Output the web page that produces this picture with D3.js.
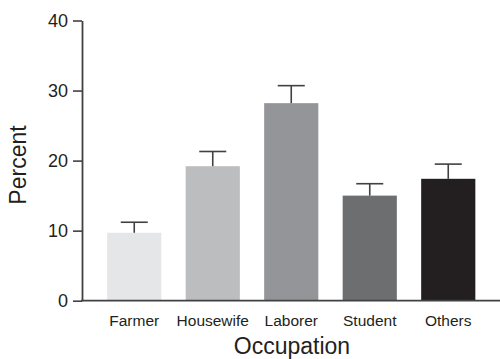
<!DOCTYPE html>
<html>
<head>
<meta charset="utf-8">
<script src="https://cdn.jsdelivr.net/npm/d3@7"></script>
<style>
  html, body { margin: 0; padding: 0; background: #fff; }
  svg { display: block; font-family: "Liberation Sans", Arial, Helvetica, sans-serif; }
</style>
</head>
<body>
<svg id="chart" width="500" height="359"></svg>
<script>
// Occupation breakdown: mean percent with upper error bar
const categories = ["Farmer", "Housewife", "Laborer", "Student", "Others"];
const percentValues = [9.7, 19.2, 28.2, 15.0, 17.4];
const errorValues = [1.5, 2.1, 2.5, 1.7, 2.1];
const barColors = ["#e5e6e8", "#bcbdbf", "#949599", "#6d6e70", "#231f20"];
const yTicks = [0, 10, 20, 30, 40];

const ink = "#414042";
const svg = d3.select("#chart");

const x = d3.scaleBand()
  .domain(categories)
  .range([95, 487.5])
  .paddingInner(0.31)
  .paddingOuter(0.155);

const y = d3.scaleLinear()
  .domain([0, 40])
  .range([300.7, 20.5]);

const rows = categories.map((c, i) => ({ c, v: percentValues[i], e: errorValues[i], color: barColors[i] }));

// Bars
svg.append("g")
  .selectAll("rect")
  .data(rows)
  .join("rect")
  .attr("x", d => x(d.c))
  .attr("y", d => y(d.v))
  .attr("width", x.bandwidth())
  .attr("height", d => y(0) - y(d.v))
  .attr("fill", d => d.color);

// Upper error bars
const capHalf = 13.5;
const err = svg.append("g")
  .attr("stroke", ink)
  .attr("stroke-width", 1.6)
  .attr("fill", "none");
err.selectAll("line.stem")
  .data(rows)
  .join("line")
  .attr("class", "stem")
  .attr("x1", d => x(d.c) + x.bandwidth() / 2)
  .attr("x2", d => x(d.c) + x.bandwidth() / 2)
  .attr("y1", d => y(d.v))
  .attr("y2", d => y(d.v + d.e));
err.selectAll("line.cap")
  .data(rows)
  .join("line")
  .attr("class", "cap")
  .attr("x1", d => x(d.c) + x.bandwidth() / 2 - capHalf)
  .attr("x2", d => x(d.c) + x.bandwidth() / 2 + capHalf)
  .attr("y1", d => y(d.v + d.e))
  .attr("y2", d => y(d.v + d.e));

// Y axis
const yAxis = svg.append("g")
  .attr("transform", "translate(82,0)")
  .call(d3.axisLeft(y).tickValues(yTicks).tickSize(9).tickPadding(5).tickSizeOuter(0));
yAxis.select(".domain").attr("stroke", ink).attr("stroke-width", 1.8);
yAxis.selectAll(".tick line").attr("stroke", ink).attr("stroke-width", 1.6);
yAxis.selectAll(".tick text")
  .attr("fill", "#231f20")
  .style("font-size", "18px")
  .style("font-family", "\"Liberation Sans\", Arial, sans-serif");

// X baseline
svg.append("line")
  .attr("x1", 81.1).attr("x2", 500)
  .attr("y1", y(0)).attr("y2", y(0))
  .attr("stroke", ink)
  .attr("stroke-width", 1.8);

// X category labels
const xAxis = svg.append("g")
  .attr("transform", `translate(0,${y(0)})`)
  .call(d3.axisBottom(x).tickSize(0).tickPadding(14));
xAxis.select(".domain").remove();
xAxis.selectAll(".tick text")
  .attr("fill", "#231f20")
  .style("font-size", "15.5px")
  .style("font-family", "\"Liberation Sans\", Arial, sans-serif");

// Axis titles
svg.append("text")
  .attr("x", 292)
  .attr("y", 354)
  .attr("text-anchor", "middle")
  .attr("fill", "#231f20")
  .style("font-size", "23px")
  .text("Occupation");

svg.append("text")
  .attr("transform", "translate(26,165) rotate(-90)")
  .attr("text-anchor", "middle")
  .attr("fill", "#231f20")
  .style("font-size", "23px")
  .text("Percent");
</script>
</body>
</html>
